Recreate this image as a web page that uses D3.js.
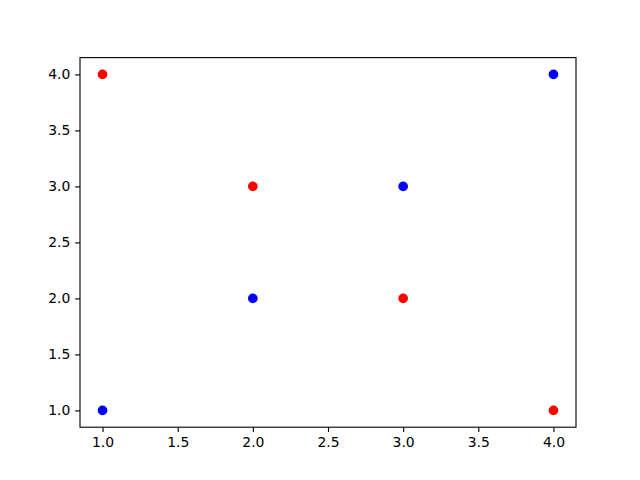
<!DOCTYPE html>
<html><head><meta charset="utf-8">
<script src="https://cdn.jsdelivr.net/npm/d3@7"></script>
<style>body{margin:0;background:#fff}svg{display:block}</style>
</head><body>
<svg id="c" width="640" height="480"></svg>
<script>
const blueX = [1, 2, 3, 4];
const blueY = [1, 2, 3, 4];
const redX = [1, 2, 3, 4];
const redY = [4, 3, 2, 1];
const xTicks = [1.0, 1.5, 2.0, 2.5, 3.0, 3.5, 4.0];
const yTicks = [1.0, 1.5, 2.0, 2.5, 3.0, 3.5, 4.0];

const W = 640, H = 480;
const L = 80, R = 576, T = 57.6, B = 427.2;
const svg = d3.select("#c");
const x = d3.scaleLinear().domain([0.85, 4.15]).range([L, R]);
const y = d3.scaleLinear().domain([0.85, 4.15]).range([B, T]);

const fmt = d3.format(".1f");
const xa = svg.append("g").attr("transform", `translate(0,${B})`)
  .call(d3.axisBottom(x).tickValues(xTicks).tickFormat(fmt).tickSizeInner(4.86).tickSizeOuter(0).tickPadding(4.9));
const ya = svg.append("g").attr("transform", `translate(${L},0)`)
  .call(d3.axisLeft(y).tickValues(yTicks).tickFormat(fmt).tickSizeInner(4.86).tickSizeOuter(0).tickPadding(4.9));
[xa, ya].forEach(a => {
  a.select(".domain").remove();
  a.selectAll("line").attr("stroke", "#000").attr("stroke-width", 1.11);
  a.selectAll("text").attr("fill", "#000").style("font-family", "DejaVu Sans").style("font-size", "13.9px");
});

svg.append("rect").attr("x", L).attr("y", T).attr("width", R - L).attr("height", B - T)
  .attr("fill", "none").attr("stroke", "#000").attr("stroke-width", 1.11);

const r = 4.17;
svg.append("g").selectAll("circle").data(blueX.map((d, i) => [d, blueY[i]])).join("circle")
  .attr("cx", d => x(d[0])).attr("cy", d => y(d[1])).attr("r", r)
  .attr("fill", "#0000ff").attr("stroke", "#0000ff").attr("stroke-width", 1.39);
svg.append("g").selectAll("circle").data(redX.map((d, i) => [d, redY[i]])).join("circle")
  .attr("cx", d => x(d[0])).attr("cy", d => y(d[1])).attr("r", r)
  .attr("fill", "#ff0000").attr("stroke", "#ff0000").attr("stroke-width", 1.39);
</script>
</body></html>
